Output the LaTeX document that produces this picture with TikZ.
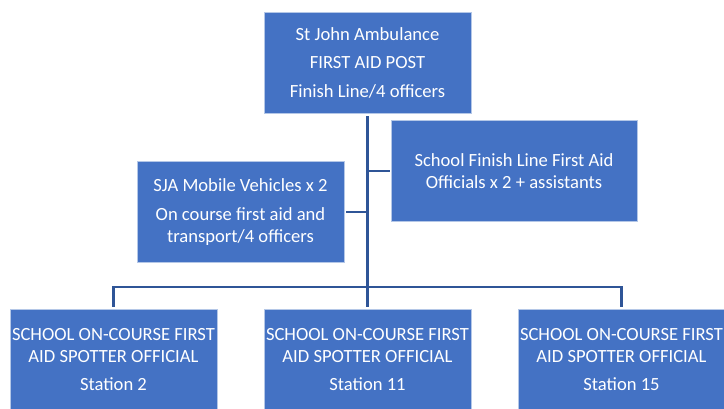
\documentclass[tikz,border=0pt]{standalone}
\usepackage{fontspec}
\setmainfont{Carlito}
\definecolor{boxblue}{RGB}{68,114,196}
\definecolor{linkblue}{RGB}{47,85,151}
\tikzset{
    aidbox/.style={fill=boxblue, draw=white!60!boxblue, line width=0.6pt, text=white,
        align=center, inner sep=0pt, minimum height=101pt,
        font=\fontsize{18.6}{22}\selectfont},
    link/.style={draw=linkblue, line width=2.4pt}
}
\begin{document}
\begin{tikzpicture}[x=1pt,y=-1pt]

    \useasboundingbox (0,0) rectangle (724,408);

    \node (post) [aidbox,minimum width=207pt] at (367.5,62.5) {St John Ambulance\\[6.5pt]FIRST AID POST\\[6.5pt]Finish Line/4 officers};
    \node (finishline) [aidbox,minimum width=246pt] at (514,171) {School Finish Line First Aid\\Officials x 2 + assistants};
    \node (vehicles) [aidbox,minimum width=207pt] at (240.5,212) {SJA Mobile Vehicles x 2\\[6.5pt]On course first aid and\\transport/4 officers};

    \node (spot2)  [aidbox,minimum width=207pt] at (113.5,359.5) {SCHOOL ON-COURSE FIRST\\AID SPOTTER OFFICIAL\\[6.5pt]Station 2};
    \node (spot11) [aidbox,minimum width=207pt] at (367.5,359.5) {SCHOOL ON-COURSE FIRST\\AID SPOTTER OFFICIAL\\[6.5pt]Station 11};
    \node (spot15) [aidbox,minimum width=207pt] at (621.5,359.5) {SCHOOL ON-COURSE FIRST\\AID SPOTTER OFFICIAL\\[6.5pt]Station 15};

    \coordinate (bus) at (367.5,287);

    \draw[link] ([yshift=-3pt]post.south) -- (bus);
    \draw[link] ([xshift=-1pt]finishline.west) -- (finishline.west -| bus);
    \draw[link] ([xshift=2pt]vehicles.east) -- (vehicles.east -| bus);
    \draw[link] ([yshift=2pt]spot2.north) -- (spot2.north |- bus) -- (spot15.north |- bus) -- ([yshift=2pt]spot15.north);
    \draw[link] (bus) -- ([yshift=2pt]spot11.north);

\end{tikzpicture}
\end{document}
